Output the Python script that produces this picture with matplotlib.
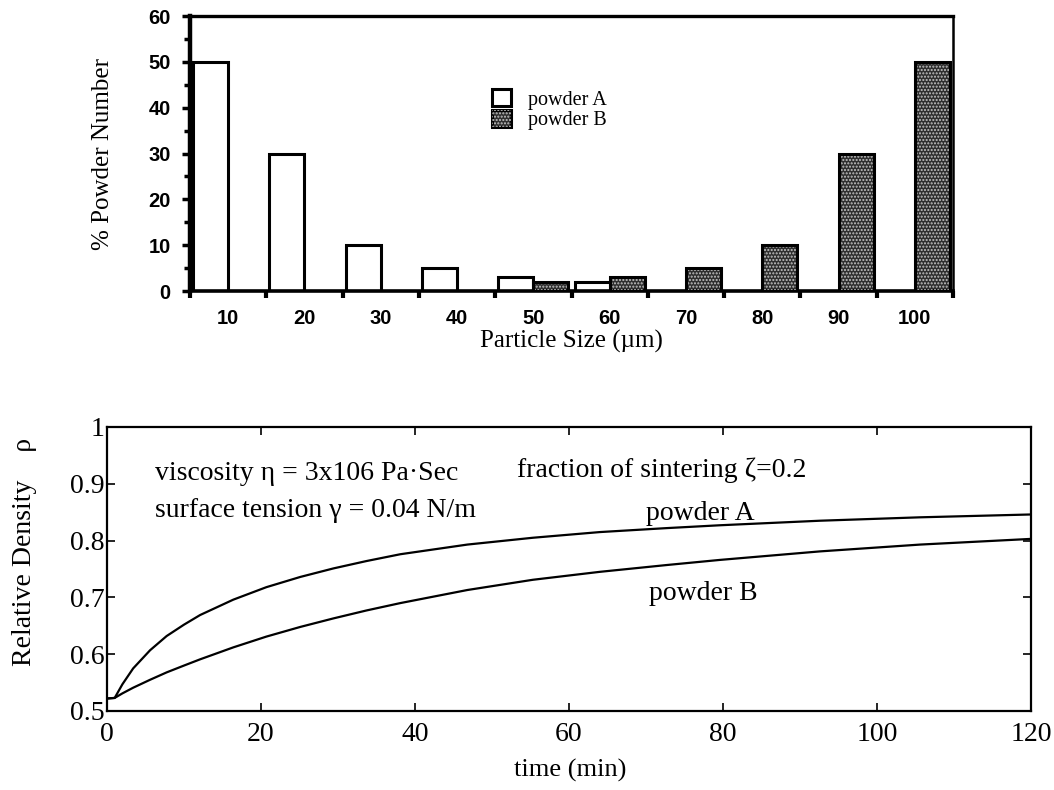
import numpy as np
import matplotlib
matplotlib.use("Agg")
import matplotlib.pyplot as plt
from matplotlib.patches import Patch
from matplotlib.ticker import MultipleLocator, FixedLocator

SERIF = "Liberation Serif"
SANS = "Liberation Sans"

# particle size distribution (% of powder number per size class)
sizes = ["10", "20", "30", "40", "50", "60", "70", "80", "90", "100"]
powder_a = [50, 30, 10, 5, 3, 2, 0, 0, 0, 0]
powder_b = [0, 0, 0, 0, 2, 3, 5, 10, 30, 50]

# relative density vs sintering time
time_min = [0, 1.0, 2.0, 3.4, 5.6, 7.75, 10.0, 12.1, 16.4, 20.7, 25.1, 29.4, 33.7,
            38.1, 46.8, 55.3, 64.0, 72.7, 79.6, 92.6, 105.6, 120]
rho_a = [0.522, 0.523, 0.547, 0.575, 0.607, 0.632, 0.652, 0.669, 0.696, 0.718, 0.736,
         0.751, 0.764, 0.776, 0.793, 0.805, 0.815, 0.822, 0.827, 0.835, 0.841, 0.846]
rho_b = [0.522, 0.523, 0.531, 0.541, 0.555, 0.568, 0.580, 0.591, 0.612, 0.631, 0.648,
         0.663, 0.677, 0.690, 0.713, 0.731, 0.745, 0.757, 0.766, 0.781, 0.793, 0.803]

fig = plt.figure(figsize=(10.54, 7.9), dpi=100)

# ---- top: histogram of particle sizes ----
ax1 = fig.add_axes([0.1803, 0.6316, 0.7239, 0.3481])
x = np.arange(len(sizes))
w = 0.46
dark, dots = "#2e2e2e", "#c4c4c4"

ax1.bar(x - w / 2, powder_a, width=w, color="white", edgecolor="black", linewidth=2.2, zorder=2)
ax1.bar(x + w / 2, powder_b, width=w, color=dark, edgecolor="black", linewidth=0, zorder=2)
ax1.bar(x + w / 2, powder_b, width=w, color="none", edgecolor=dots, hatch=".....",
        linewidth=0, zorder=3)
ax1.bar(x + w / 2, powder_b, width=w, fill=False, edgecolor="black", linewidth=2.2, zorder=4)

ax1.set_xlim(-0.5, len(sizes) - 0.5)
ax1.set_ylim(0, 60)
ax1.set_xticks(x)
ax1.set_xticklabels(sizes, fontfamily=SANS, fontweight="bold", fontsize=14.5)
ax1.xaxis.set_minor_locator(FixedLocator(np.arange(-0.5, len(sizes), 1.0)))
ax1.tick_params(axis="x", which="major", length=0, pad=13)
ax1.tick_params(axis="x", which="minor", length=5, width=3, direction="out")
ax1.yaxis.set_major_locator(MultipleLocator(10))
ax1.yaxis.set_minor_locator(MultipleLocator(5))
ax1.tick_params(axis="y", which="major", length=6, width=2.5, direction="out", pad=8)
ax1.tick_params(axis="y", which="minor", length=4, width=2.5, direction="out")
for lab in ax1.get_yticklabels():
    lab.set_fontfamily(SANS)
    lab.set_fontweight("bold")
    lab.set_fontsize(14.5)

ax1.spines["left"].set_linewidth(3.2)
ax1.spines["bottom"].set_linewidth(2.6)
ax1.spines["top"].set_linewidth(2.4)
ax1.spines["right"].set_linewidth(1.8)

ax1.set_ylabel("% Powder Number", fontfamily=SERIF, fontsize=18)
ax1.yaxis.set_label_coords(-0.114, 0.5)
ax1.yaxis.label.set_va("center")
ax1.set_xlabel("Particle Size (\u00b5m)", fontfamily=SERIF, fontsize=18)
ax1.xaxis.set_label_coords(0.5, -0.185)
ax1.xaxis.label.set_va("center")

h_a = Patch(facecolor="white", edgecolor="black", linewidth=2.2)
h_b = (Patch(facecolor=dark, edgecolor="black", linewidth=2.2),
       Patch(facecolor="none", edgecolor=dots, hatch=".....", linewidth=0))
ax1.legend([h_a, h_b], ["powder A", "powder B"], loc="upper left",
           bbox_to_anchor=(0.396, 0.735), frameon=False, borderpad=0,
           handlelength=0.95, handleheight=0.95, labelspacing=0.0,
           handletextpad=0.85, borderaxespad=0,
           prop={"family": SERIF, "size": 14.5})

# ---- bottom: densification curves ----
ax2 = fig.add_axes([0.1015, 0.1, 0.8767, 0.3595])
ax2.plot(time_min, rho_a, color="black", linewidth=1.6)
ax2.plot(time_min, rho_b, color="black", linewidth=1.6)

ax2.set_xlim(0, 120)
ax2.set_ylim(0.5, 1.0)
ax2.set_xticks([0, 20, 40, 60, 80, 100, 120])
ax2.set_yticks([0.5, 0.6, 0.7, 0.8, 0.9, 1.0])
ax2.set_yticklabels(["0.5", "0.6", "0.7", "0.8", "0.9", "1"])
ax2.tick_params(axis="both", direction="in", length=6, width=1.2,
                top=True, right=True, labelsize=20)
ax2.tick_params(axis="x", pad=8)
ax2.tick_params(axis="y", pad=2)
for lab in ax2.get_xticklabels() + ax2.get_yticklabels():
    lab.set_fontfamily(SERIF)
for sp in ax2.spines.values():
    sp.set_linewidth(1.6)

ax2.set_ylabel("Relative Density    \u03c1", fontfamily=SERIF, fontsize=20)
ax2.yaxis.set_label_coords(-0.089, 0.56)
ax2.yaxis.label.set_va("center")
ax2.set_xlabel("time (min)", fontfamily=SERIF, fontsize=19)
ax2.xaxis.set_label_coords(0.501, -0.208)
ax2.xaxis.label.set_va("center")

txt = dict(fontfamily=SERIF, fontsize=20, va="baseline")
ax2.text(6.2, 0.907, "viscosity \u03b7 = 3x106 Pa\u00b7Sec", ha="left", **txt)
ax2.text(6.2, 0.841, "surface tension \u03b3 = 0.04 N/m", ha="left", **txt)
ax2.text(53.2, 0.912, "fraction of sintering \u03b6=0.2", ha="left", **txt)
ax2.text(77.0, 0.836, "powder A", ha="center", **txt)
ax2.text(77.4, 0.695, "powder B", ha="center", **txt)

fig.savefig("out.png", dpi=100)
